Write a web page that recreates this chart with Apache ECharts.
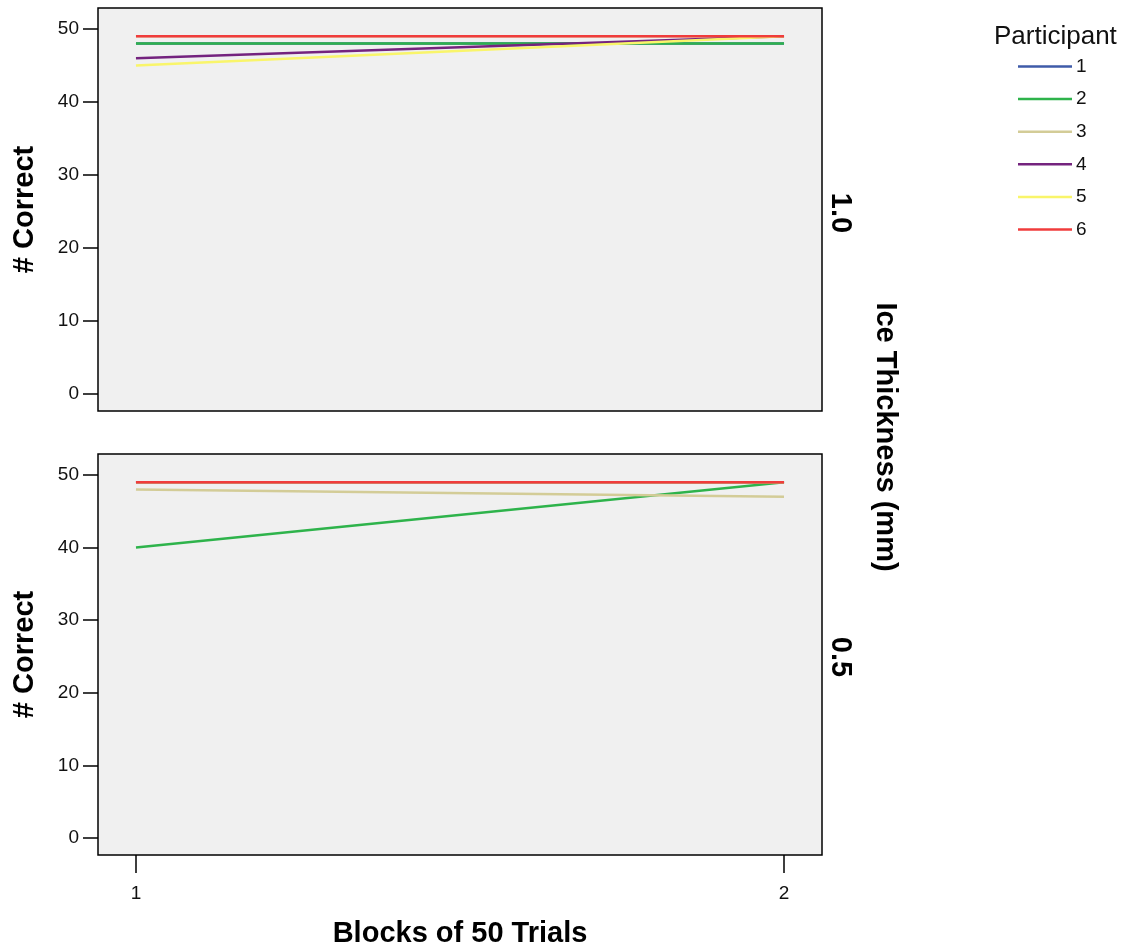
<!DOCTYPE html>
<html>
<head>
<meta charset="utf-8">
<script src="https://cdn.jsdelivr.net/npm/echarts@6/dist/echarts.min.js"></script>
<style>html,body{margin:0;padding:0;background:#fff}#c{width:1125px;height:949px}</style>
</head>
<body>
<div id="c"></div>
<script>
// Data
const blocks = [1, 2];
const participants = ['1', '2', '3', '4', '5', '6'];
const colors = ['#3f5ba9', '#2eb34b', '#d3cc97', '#74237e', '#f9f56a', '#f03c3c'];
const yTicks = [0, 10, 20, 30, 40, 50];
const xTicks = [1, 2];
// Ice thickness 1.0 mm (top panel)
const thick10_p1 = [48, 48];
const thick10_p2 = [48, 48];
const thick10_p3 = [49, 49];
const thick10_p4 = [46, 49];
const thick10_p5 = [45, 49];
const thick10_p6 = [49, 49];
// Ice thickness 0.5 mm (bottom panel)
const thick05_p1 = [49, 49];
const thick05_p2 = [40, 49];
const thick05_p3 = [48, 47];
const thick05_p4 = [49, 49];
const thick05_p5 = [49, 49];
const thick05_p6 = [49, 49];

const topPanel = [thick10_p1, thick10_p2, thick10_p3, thick10_p4, thick10_p5, thick10_p6];
const botPanel = [thick05_p1, thick05_p2, thick05_p3, thick05_p4, thick05_p5, thick05_p6];

const chart = echarts.init(document.getElementById('c'));
const FONT = 'Liberation Sans, Arial, sans-serif';

function yAx(idx) {
  return {
    type: 'value', gridIndex: idx, min: -2.33, max: 52.88,
    name: '# Correct', nameLocation: 'middle', nameRotate: 90, nameGap: 59,
    nameTextStyle: {fontFamily: FONT, fontWeight: 'bold', fontSize: 29, color: '#000'},
    axisLine: {show: false, onZero: false},
    splitLine: {show: false},
    axisTick: {show: true, length: 15, lineStyle: {color: '#000', width: 1.5}, customValues: yTicks},
    axisLabel: {fontFamily: FONT, fontSize: 19, color: '#111', margin: 19, customValues: yTicks}
  };
}
function xAx(idx, show) {
  return {
    type: 'value', gridIndex: idx, min: 0.9414, max: 2.0586,
    name: show ? 'Blocks of 50 Trials' : '', nameLocation: 'middle', nameGap: 64,
    nameTextStyle: {fontFamily: FONT, fontWeight: 'bold', fontSize: 29, color: '#000'},
    axisLine: {show: false, onZero: false},
    splitLine: {show: false},
    axisTick: {show: show, length: 18, lineStyle: {color: '#000', width: 1.5}, customValues: xTicks},
    axisLabel: {show: show, fontFamily: FONT, fontSize: 19, color: '#111', margin: 29, customValues: xTicks}
  };
}

const series = [];
participants.forEach((p, i) => {
  series.push({
    name: p, type: 'line', xAxisIndex: 0, yAxisIndex: 0, showSymbol: false, symbol: 'none',
    lineStyle: {color: colors[i], width: 2.5}, itemStyle: {color: colors[i]},
    data: blocks.map((b, j) => [b, topPanel[i][j]]), z: 2 + i, animation: false
  });
  series.push({
    name: p, type: 'line', xAxisIndex: 1, yAxisIndex: 1, showSymbol: false, symbol: 'none',
    lineStyle: {color: colors[i], width: 2.5}, itemStyle: {color: colors[i]},
    data: blocks.map((b, j) => [b, botPanel[i][j]]), z: 2 + i, animation: false
  });
});

chart.setOption({
  animation: false,
  backgroundColor: '#fff',
  grid: [
    {left: 98, top: 8, width: 724, height: 403, show: true, backgroundColor: '#f0f0f0', borderColor: '#000', borderWidth: 1.5},
    {left: 98, top: 454, width: 724, height: 403, show: true, backgroundColor: '#f0f0f0', borderColor: '#000', borderWidth: 1.5}
  ],
  xAxis: [xAx(0, false), xAx(1, true)],
  yAxis: [yAx(0), yAx(1)],
  legend: {
    orient: 'vertical', left: 1013, top: 52,
    data: participants.map((p, i) => ({name: p, icon: 'rect', itemStyle: {color: colors[i]}})),
    itemWidth: 54, itemHeight: 2.5, itemGap: 13.6,
    textStyle: {fontFamily: FONT, fontSize: 19, color: '#111', padding: [0, 0, 0, -1]}
  },
  graphic: [
    {type: 'text', left: 994, top: 24, style: {text: 'Participant', font: '26px ' + FONT, fill: '#111'}},
    {type: 'text', x: 840, y: 213, rotation: -Math.PI / 2, style: {text: '1.0', font: 'bold 29px ' + FONT, fill: '#000', align: 'center', verticalAlign: 'middle'}},
    {type: 'text', x: 840, y: 657, rotation: -Math.PI / 2, style: {text: '0.5', font: 'bold 29px ' + FONT, fill: '#000', align: 'center', verticalAlign: 'middle'}},
    {type: 'text', x: 885, y: 437, rotation: -Math.PI / 2, style: {text: 'Ice Thickness (mm)', font: 'bold 29px ' + FONT, fill: '#000', align: 'center', verticalAlign: 'middle'}}
  ],
  series: series
});
</script>
</body>
</html>
